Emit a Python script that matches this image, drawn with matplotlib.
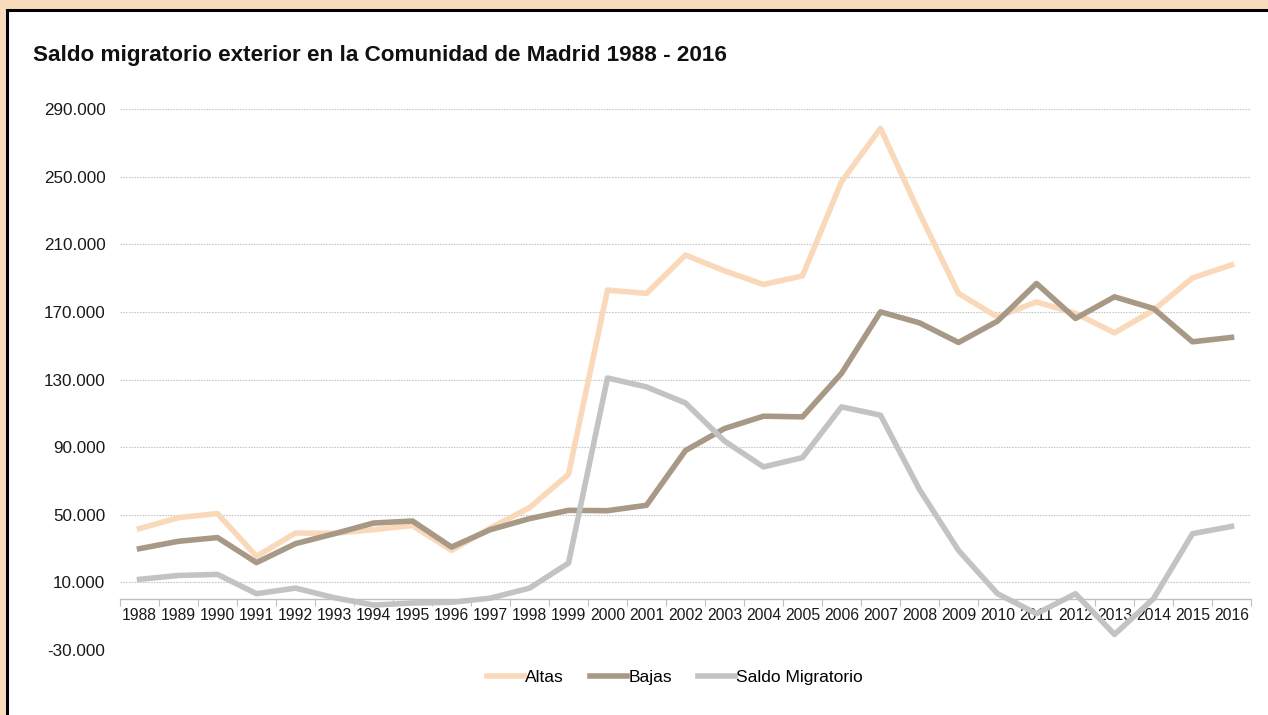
import matplotlib
matplotlib.use("Agg")
import matplotlib.pyplot as plt
from matplotlib.patches import Rectangle
from matplotlib.ticker import FuncFormatter, FixedLocator

plt.rcParams['font.family'] = ['Liberation Sans', 'DejaVu Sans']

years = [str(y) for y in range(1988, 2017)]
altas = [41800, 48300, 50700, 25400, 39200, 39000, 41200, 43600, 28900, 42200,
         54200, 73900, 182900, 180900, 203600, 194300, 186200, 191300, 247000, 278600,
         228300, 180900, 167000, 175900, 169100, 157600, 171000, 190100, 197800]
bajas = [29950, 34300, 36500, 21700, 32900, 38800, 45100, 46300, 30900, 41200,
         47700, 52600, 52400, 55600, 88000, 101000, 108300, 107900, 133600, 170000,
         163500, 151900, 164500, 186800, 166100, 178900, 172000, 152300, 154900]
saldo = [11800, 14100, 14700, 3300, 6600, 900, -3400, -2200, -1800, 700,
         6600, 21400, 130900, 125600, 116100, 93600, 78300, 83800, 113800, 108900,
         64900, 28900, 3300, -8500, 3300, -20800, 350, 38800, 43100]
yticks = [-30000, 10000, 50000, 90000, 130000, 170000, 210000, 250000, 290000]

W, H = 1268, 715
fig = plt.figure(figsize=(W / 100, H / 100), dpi=100)
fig.patch.set_facecolor('#F9DBBD')
bg = Rectangle((7 / W, -0.1), 1.2, 1.1 - 10 / H, transform=fig.transFigure,
               facecolor='white', edgecolor='black', linewidth=2.2, zorder=-10)
fig.add_artist(bg)

ax = fig.add_axes([120 / W, 1 - 650 / H, (1251 - 120) / W, (650 - 109) / H])
ax.set_zorder(1)
ax.set_facecolor('none')
x = list(range(len(years)))
ax.plot(x, altas, color='#F9D9B9', lw=4, label='Altas')
ax.plot(x, bajas, color='#A89886', lw=4, label='Bajas')
ax.plot(x, saldo, color='#C3C3C3', lw=4, label='Saldo Migratorio')

ax.set_xlim(-0.5, len(years) - 0.5)
ax.set_ylim(-30000, 290000)
ax.set_yticks(yticks)
ax.yaxis.set_major_formatter(FuncFormatter(lambda v, p: f"{int(v):,}".replace(',', '.')))
ax.tick_params(axis='y', length=0, pad=10.5, labelsize=12.3, labelcolor='#1a1a1a')
for v in yticks:
    ax.axhline(v, color='#C8C8C8', lw=0.8, ls=(0, (1.5, 1)), zorder=0)

for s in ['left', 'right', 'top']:
    ax.spines[s].set_visible(False)
ax.spines['bottom'].set_position(('data', 0))
ax.spines['bottom'].set_color('#BFBFBF')
ax.spines['bottom'].set_linewidth(1)

ax.xaxis.set_major_locator(FixedLocator([i - 0.5 for i in range(len(years) + 1)]))
ax.xaxis.set_major_formatter(FuncFormatter(lambda v, p: ''))
ax.set_xticks(x, years, minor=True)
ax.tick_params(axis='x', which='major', length=5, color='#BFBFBF', direction='out')
ax.tick_params(axis='x', which='minor', length=0, pad=6.5, labelsize=11.3, labelcolor='#1a1a1a')

fig.text(33 / W, 1 - 55 / H, 'Saldo migratorio exterior en la Comunidad de Madrid 1988 - 2016',
         fontsize=16.2, fontweight='bold', va='center', ha='left', color='#111111')

leg = fig.legend(loc='center', bbox_to_anchor=(675 / W, 1 - 677 / H), ncol=3, frameon=False,
                 fontsize=12.5, handlelength=2.15, handletextpad=0.05, columnspacing=1.5)

fig.savefig('out.png', dpi=100, facecolor=fig.get_facecolor())
